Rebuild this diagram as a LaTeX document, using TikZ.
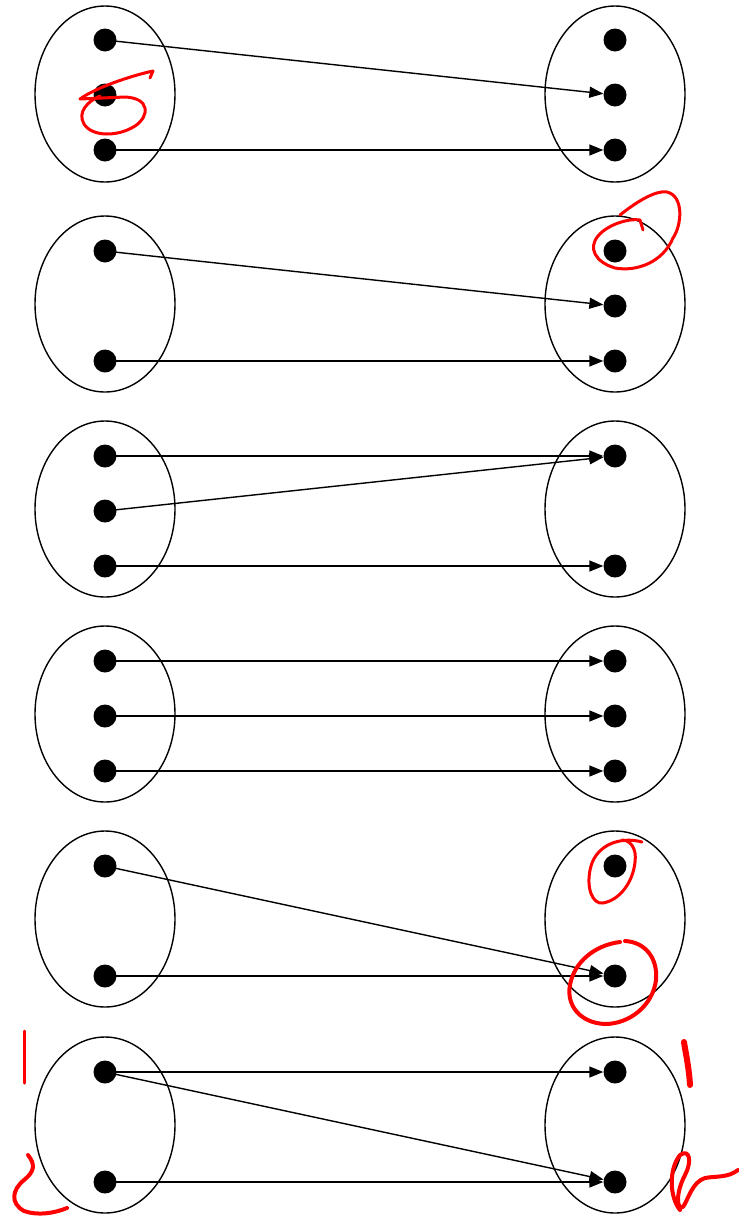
\documentclass[tikz,border=0pt]{standalone}
\usetikzlibrary{arrows.meta}
\begin{document}
\begin{tikzpicture}[x=1pt,y=-1pt,
  dot/.style={circle,fill=black,inner sep=0pt,minimum size=23pt},
  setell/.style={draw=black,line width=1.4pt},
  conn/.style={line width=1.4pt,-{Triangle[length=14pt,width=11pt]}},
  scrib/.style={draw=red,line width=3pt,line cap=round,line join=round}]
\useasboundingbox (0,0) rectangle (739,1216);
% ellipses
\foreach \cy in {94,304,509,714,919,1125}{
  \draw[setell] (105,\cy) ellipse [x radius=70pt, y radius=88pt];
  \draw[setell] (615,\cy) ellipse [x radius=70pt, y radius=88pt];
}
% row 1
\node[dot] (l1a) at (105,40) {};
\node[dot] (l1b) at (105,95) {};
\node[dot] (l1c) at (105,150) {};
\node[dot] (r1a) at (615,40) {};
\node[dot] (r1b) at (615,95) {};
\node[dot] (r1c) at (615,150) {};
\draw[conn] (l1a.center) -- (r1b);
\draw[conn] (l1c.center) -- (r1c);
% row 2
\node[dot] (l2a) at (105,251) {};
\node[dot] (l2c) at (105,361) {};
\node[dot] (r2a) at (615,251) {};
\node[dot] (r2b) at (615,306) {};
\node[dot] (r2c) at (615,361) {};
\draw[conn] (l2a.center) -- (r2b);
\draw[conn] (l2c.center) -- (r2c);
% row 3
\node[dot] (l3a) at (105,456) {};
\node[dot] (l3b) at (105,511) {};
\node[dot] (l3c) at (105,566) {};
\node[dot] (r3a) at (615,456) {};
\node[dot] (r3c) at (615,566) {};
\draw[conn] (l3a.center) -- (r3a);
\draw[conn] (l3b.center) -- (r3a);
\draw[conn] (l3c.center) -- (r3c);
% row 4
\node[dot] (l4a) at (105,661) {};
\node[dot] (l4b) at (105,716) {};
\node[dot] (l4c) at (105,771) {};
\node[dot] (r4a) at (615,661) {};
\node[dot] (r4b) at (615,716) {};
\node[dot] (r4c) at (615,771) {};
\draw[conn] (l4a.center) -- (r4a);
\draw[conn] (l4b.center) -- (r4b);
\draw[conn] (l4c.center) -- (r4c);
% row 5
\node[dot] (l5a) at (105,866) {};
\node[dot] (l5c) at (105,976) {};
\node[dot] (r5a) at (615,866) {};
\node[dot] (r5c) at (615,976) {};
\draw[conn] (l5a.center) -- (r5c);
\draw[conn] (l5c.center) -- (r5c);
% row 6
\node[dot] (l6a) at (105,1072) {};
\node[dot] (l6c) at (105,1182) {};
\node[dot] (r6a) at (615,1072) {};
\node[dot] (r6c) at (615,1182) {};
\draw[conn] (l6a.center) -- (r6a);
\draw[conn] (l6a.center) -- (r6c);
\draw[conn] (l6c.center) -- (r6c);
% red scribbles
\draw[scrib,line width=3pt] (150,78) -- (153,71) .. controls (130,76) and (95,88) .. (80,99)
  -- (125,97) .. controls (150,98) and (150,116) .. (135,126)
  .. controls (118,137) and (92,137) .. (84,124)
  .. controls (77,112) and (88,101) .. (100,96);
\draw[scrib,line width=3pt] (620,215) .. controls (635,203) and (655,190) .. (667,192)
  .. controls (684,196) and (682,225) .. (673,238)
  .. controls (663,262) and (637,272) .. (615,268)
  .. controls (595,262) and (588,248) .. (598,236)
  .. controls (608,224) and (630,218) .. (640,220) -- (643,230);
\draw[scrib,line width=3pt] (642,842) .. controls (620,836) and (597,845) .. (591,866)
  .. controls (585,888) and (593,905) .. (603,903)
  .. controls (620,900) and (633,882) .. (635,862)
  .. controls (637,848) and (630,840) .. (622,840);
\draw[scrib,line width=4pt] (625,941) .. controls (645,942) and (658,958) .. (656,980)
  .. controls (653,1005) and (630,1024) .. (605,1024)
  .. controls (580,1023) and (566,1005) .. (570,985)
  .. controls (574,962) and (595,945) .. (620,942);
\draw[scrib,line width=3pt] (24,1031) -- (24,1083);
\draw[scrib,line width=4pt] (28,1155) .. controls (36,1165) and (34,1172) .. (24,1180)
  .. controls (12,1190) and (10,1203) .. (24,1211)
  .. controls (38,1216) and (55,1213) .. (67,1208);
\draw[scrib,line width=6pt] (684,1042) .. controls (686,1055) and (689,1068) .. (690,1085);
\draw[scrib,line width=4pt] (680,1210) .. controls (670,1198) and (668,1170) .. (680,1155)
  .. controls (690,1148) and (692,1162) .. (685,1175)
  .. controls (676,1192) and (676,1210) .. (683,1207)
  .. controls (688,1200) and (692,1182) .. (705,1178)
  .. controls (715,1176) and (728,1178) .. (738,1170);
\end{tikzpicture}
\end{document}
